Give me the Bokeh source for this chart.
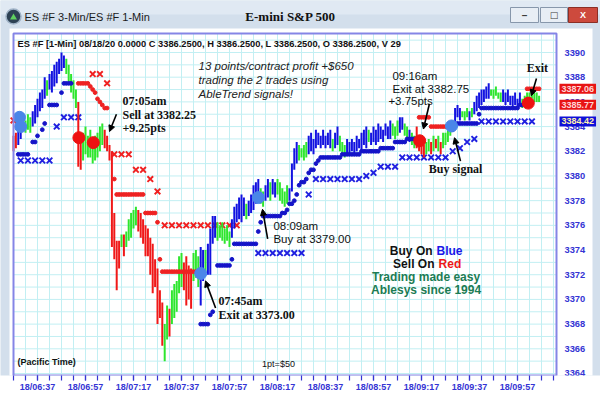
from bokeh.plotting import figure
from bokeh.models import Range1d, FixedTicker, Label, Arrow, NormalHead, ColumnDataSource
from bokeh.embed import file_html
from bokeh.resources import INLINE

# ---------------- data (1-minute ES bars, 18 Aug 2020, Pacific time) ----------------
first_bar_time = "06:27"
bar_low = [
    3382.0, 3382.25, 3382.5, 3383.0, 3383.75, 3383.5, 3383.75, 3383.5, 3384.0, 3384.25,
    3384.75, 3385.25, 3385.5, 3386.25, 3386.5, 3387.0, 3386.75, 3387.25, 3387.5, 3388.25,
    3388.5, 3388.75, 3388.25, 3387.5, 3386.75, 3386.25, 3385.5, 3380.75, 3380.5, 3381.25,
    3381.75, 3381.5, 3381.5, 3381.0, 3381.25, 3381.5, 3382.0, 3382.5, 3382.25, 3382.0,
    3381.25, 3374.25, 3373.25, 3370.75, 3372.5, 3374.25, 3373.5, 3374.25, 3374.75, 3375.0,
    3375.75, 3376.0, 3375.5, 3375.0, 3374.5, 3373.5, 3373.5, 3372.0, 3370.5, 3371.0,
    3368.0, 3368.5, 3366.25, 3365.0, 3366.75, 3367.0, 3368.0, 3368.5, 3369.0, 3370.5,
    3371.0, 3370.75, 3369.5, 3370.0, 3369.25, 3371.5, 3371.75, 3371.0, 3369.5, 3371.5,
    3372.25, 3372.0, 3372.0, 3374.5, 3375.0, 3374.75, 3375.0, 3374.75, 3374.5, 3374.75,
    3374.25, 3375.0, 3375.75, 3376.25, 3376.5, 3376.25, 3376.75, 3376.5, 3376.75, 3377.0,
    3377.25, 3377.75, 3378.0, 3377.75, 3377.5, 3378.0, 3378.25, 3378.0, 3378.5, 3378.25,
    3378.5, 3378.0, 3377.75, 3377.5, 3377.75, 3378.0, 3378.75, 3380.5, 3381.0, 3381.25,
    3381.5, 3381.25, 3381.5, 3381.75, 3382.0, 3381.75, 3382.25, 3382.5, 3382.25, 3382.5,
    3382.25, 3382.5, 3382.25, 3382.0, 3382.25, 3382.5, 3382.0, 3381.75, 3381.5, 3381.75,
    3381.75, 3382.0, 3381.75, 3382.0, 3382.25, 3382.0, 3382.5, 3382.25, 3382.75, 3382.5,
    3382.75, 3382.5, 3382.75, 3383.0, 3382.75, 3383.25, 3383.0, 3383.0, 3383.25, 3383.0,
    3383.25, 3383.5, 3383.75, 3383.25, 3383.0, 3382.75, 3382.5, 3382.25, 3382.25, 3382.0,
    3381.75, 3381.5, 3381.75, 3382.0, 3381.75, 3382.0, 3382.25, 3382.0, 3381.75, 3382.25,
    3382.5, 3382.75, 3383.25, 3383.75, 3384.25, 3384.75, 3384.5, 3384.75, 3384.5, 3384.75,
    3384.5, 3384.75, 3385.0, 3385.25, 3385.5, 3385.75, 3386.0, 3386.25, 3386.25, 3386.5,
    3386.25, 3386.5, 3386.25, 3386.0, 3386.0, 3385.75, 3386.0, 3385.75, 3385.5, 3385.75,
    3385.5, 3385.75, 3385.5, 3385.75, 3385.75, 3386.0, 3386.25, 3386.0, 3386.0, 3386.0,
]
bar_high = [
    3383.25, 3383.5, 3384.5, 3384.25, 3384.75, 3384.5, 3385.0, 3384.75, 3385.25, 3385.75,
    3386.25, 3386.75, 3387.0, 3388.0, 3387.75, 3388.25, 3388.5, 3389.0, 3389.25, 3389.5,
    3390.0, 3389.75, 3389.5, 3389.0, 3388.25, 3387.75, 3387.0, 3386.0, 3383.0, 3383.5,
    3384.0, 3383.25, 3383.75, 3383.0, 3383.25, 3383.5, 3384.0, 3384.25, 3383.75, 3383.25,
    3382.5, 3382.0, 3377.0, 3374.75, 3374.75, 3375.25, 3375.25, 3375.5, 3376.5, 3377.0,
    3377.25, 3377.5, 3377.25, 3377.0, 3376.5, 3376.0, 3375.75, 3375.0, 3374.5, 3373.25,
    3372.5, 3370.75, 3369.75, 3368.0, 3369.5, 3369.25, 3370.75, 3371.25, 3371.5, 3373.5,
    3373.75, 3373.0, 3373.5, 3372.75, 3372.5, 3373.75, 3374.0, 3373.5, 3374.25, 3374.0,
    3374.0, 3374.5, 3375.75, 3376.75, 3376.75, 3376.25, 3376.0, 3376.25, 3375.75, 3376.0,
    3375.5, 3376.5, 3377.5, 3377.75, 3378.25, 3378.5, 3378.25, 3377.75, 3378.0, 3378.5,
    3379.25, 3379.5, 3379.75, 3379.0, 3378.75, 3379.25, 3379.75, 3379.5, 3379.75, 3379.5,
    3379.75, 3379.5, 3379.0, 3378.75, 3379.25, 3379.0, 3381.0, 3382.25, 3382.75, 3382.5,
    3382.25, 3382.5, 3382.75, 3383.25, 3383.5, 3383.0, 3383.75, 3383.5, 3383.25, 3383.75,
    3383.25, 3383.5, 3383.75, 3383.0, 3383.5, 3384.0, 3383.25, 3382.75, 3382.5, 3383.0,
    3382.75, 3383.0, 3382.75, 3383.25, 3383.0, 3383.5, 3383.75, 3384.0, 3383.75, 3383.5,
    3384.0, 3383.75, 3384.25, 3384.0, 3383.75, 3384.25, 3384.0, 3384.5, 3384.25, 3384.0,
    3384.5, 3384.75, 3384.75, 3384.25, 3384.0, 3383.75, 3383.5, 3383.25, 3384.0, 3383.0,
    3382.75, 3382.5, 3382.75, 3383.0, 3382.75, 3383.25, 3383.0, 3383.25, 3382.75, 3383.5,
    3383.5, 3383.75, 3384.25, 3384.5, 3385.5, 3385.75, 3385.5, 3385.25, 3385.25, 3385.5,
    3385.25, 3385.5, 3386.0, 3386.5, 3386.75, 3387.0, 3387.0, 3387.25, 3387.5, 3387.0,
    3387.0, 3387.25, 3386.75, 3386.75, 3387.0, 3386.75, 3387.0, 3386.5, 3386.5, 3386.75,
    3386.25, 3386.75, 3386.25, 3386.5, 3386.75, 3386.75, 3386.75, 3386.75, 3386.75, 3386.5,
]
# B = blue (up trend), G = green (neutral), R = red (down trend)
bar_trend = ("RRBBGGGGBB" "BBBBGBBBBB" "BBGGGGGRRG" "GGGGGGGGRR" "RRRRRGRGGG"
             "GGRRRRRRRR" "RRRGGRGGGG" "GRRRRGGGBB" "GBBBBGGGGG" "GBBBBBBGBB"
             "BBBGGBBGBB" "GGGGGBBBBG" "GGGBBBBBBB" "BBBGBBGGGB" "BBBBBBBBGB"
             "BBBBBBBBGG" "GBBGGBGGRR" "RRGGRGRGRG" "GGGGBBBGGG" "BGBBBBBBBG"
             "GGGGBBBBBB" "BBGGGGGGGG")

# AbleTrend 1-min stops: (first minute after 06:00, last minute, price level)
blue_stop_runs = [(29, 33, 3381.75), (35, 36, 3382.75), (37, 37, 3383.25), (39, 39, 3383.75),
                  (40, 40, 3384.25), (42, 45, 3385.75), (47, 47, 3386.75), (48, 51, 3387.5),
                  (105, 108, 3368.0), (109, 109, 3368.75), (110, 110, 3369.0), (112, 117, 3372.75),
                  (118, 118, 3373.25), (119, 128, 3374.5), (129, 129, 3375.5), (130, 130, 3376.25),
                  (131, 138, 3376.75), (139, 140, 3377.0), (141, 141, 3377.25), (142, 143, 3377.75),
                  (144, 144, 3378.0), (145, 145, 3378.5), (146, 146, 3379.25), (147, 148, 3379.5),
                  (149, 149, 3379.75), (150, 150, 3380.25), (151, 152, 3380.5), (153, 153, 3381.0),
                  (154, 154, 3381.25), (155, 163, 3381.5), (164, 171, 3381.75), (172, 179, 3382.0),
                  (180, 185, 3382.25), (186, 190, 3382.75), (191, 195, 3383.0), (210, 210, 3383.75),
                  (211, 211, 3384.0), (212, 220, 3384.25), (221, 221, 3385.0), (222, 237, 3385.5),
                  (238, 240, 3385.75)]
red_stop_runs = [(54, 58, 3387.5), (59, 59, 3387.25), (60, 60, 3387.0), (61, 61, 3386.75),
                 (62, 62, 3386.25), (63, 63, 3386.0), (64, 64, 3385.75), (65, 66, 3385.5),
                 (69, 69, 3379.75), (70, 81, 3378.5), (82, 86, 3377.0), (87, 87, 3376.25),
                 (88, 88, 3373.25), (89, 104, 3372.25), (196, 200, 3384.75), (201, 208, 3384.0),
                 (241, 246, 3387.06)]
# 3-minute stops (X marks), one per 3-min bar
blue_x_runs = [(30, 42, 3381.25), (45, 45, 3384.0), (48, 54, 3384.75), (129, 147, 3373.75),
               (150, 150, 3378.5), (153, 171, 3379.75), (174, 174, 3380.0), (177, 177, 3380.25),
               (180, 186, 3380.75), (189, 207, 3381.5), (210, 210, 3382.0), (213, 213, 3382.25),
               (216, 216, 3382.75), (219, 219, 3383.0), (222, 243, 3384.42)]
red_x_runs = [(27, 27, 3384.5), (60, 63, 3388.25), (66, 66, 3387.5), (69, 75, 3381.75),
              (78, 81, 3380.5), (84, 84, 3379.75), (87, 87, 3378.75), (90, 120, 3376.0)]

buy_signal_t = [29.5, 30, 105, 129, 209.5]
buy_signal_p = [3384.75, 3384.0, 3372.1, 3378.25, 3384.05]
sell_signal_t = [54.25, 60.25, 196.25, 241.5]
sell_signal_p = [3383.1, 3382.7, 3382.85, 3385.9]

x_tick_labels = ["18/06:37", "18/06:57", "18/07:17", "18/07:37", "18/07:57", "18/08:17",
                 "18/08:37", "18/08:57", "18/09:17", "18/09:37", "18/09:57"]
y_tick_values = [3364, 3366, 3368, 3370, 3372, 3374, 3376, 3378, 3380, 3382, 3384, 3386,
                 3388, 3390]
price_tags = [3387.06, 3385.77, 3384.42]
price_tag_colors = ["#e81414", "#e81414", "#1010d8"]
price_tag_text = ["#ffd6d6", "#ffd6d6", "#fff2b0"]


def to_min(hhmm):
    h, m = hhmm.split(":")
    return (int(h) - 6) * 60 + int(m)


def expand(runs, step):
    ts, ps = [], []
    for a, b, lvl in runs:
        for m in range(a, b + 1, step):
            ts.append(m)
            ps.append(lvl)
    return ts, ps


# ---------------- geometry ----------------
W, H = 600, 395
AXIS_H = 20                     # bottom axis band
PX_PER_MIN = 2.4
BOX_L, BOX_R, BOX_T = 13, 556, 33   # price box (canvas px)
T_LEFT = 27                      # minute at box left edge
P_REF, Y_REF, PX_PER_PT = 3390.0, 52.0, 12.346
FRAME_H = H - AXIS_H
x0 = T_LEFT - BOX_L / PX_PER_MIN
x1 = x0 + W / PX_PER_MIN
y1 = P_REF + Y_REF / PX_PER_PT
y0 = P_REF - (FRAME_H - Y_REF) / PX_PER_PT


def X(px):
    return x0 + px / PX_PER_MIN


def Y(py):
    return y1 - py / PX_PER_PT


box_l, box_r, box_t, box_b = X(BOX_L), X(BOX_R), Y(BOX_T), y0

CHROME = "#d3dfec"
GRID = "#c2eff3"
AXC = "#3434d4"
FRAMEC = "#8585e6"

p = figure(width=W, height=H, output_backend="svg", toolbar_location=None,
           x_range=Range1d(x0, x1), y_range=Range1d(y0, y1), y_axis_location=None,
           min_border_left=0, min_border_right=0, min_border_top=0,
           min_border_bottom=AXIS_H, background_fill_color=CHROME,
           border_fill_color="white", outline_line_color=None)
p.xgrid.visible = False
p.ygrid.visible = False

x_major = [to_min(s.split("/")[1]) for s in x_tick_labels]
x_minor = list(range(T_LEFT, 253, 5))
xa = p.xaxis[0]
xa.ticker = FixedTicker(ticks=x_major, minor_ticks=x_minor)
xa.major_label_overrides = {t: s for t, s in zip(x_major, x_tick_labels)}
xa.major_label_text_font = "Liberation Sans"
xa.major_label_text_font_style = "bold"
xa.major_label_text_font_size = "9px"
xa.major_label_text_color = AXC
xa.major_label_standoff = 1
xa.axis_line_color = None
xa.major_tick_in = 0
xa.minor_tick_in = 0
xa.major_tick_out = 5
xa.minor_tick_out = 5
xa.major_tick_line_color = AXC
xa.minor_tick_line_color = AXC
xa.major_tick_line_width = 1.2
xa.minor_tick_line_width = 1.2

# ---------------- window chrome ----------------
p.quad(left=X(0), right=X(W), top=Y(0), bottom=Y(14), fill_color="#e0e9f3", line_color=None)
p.quad(left=X(9), right=X(592), top=Y(28), bottom=y0 - 5, fill_color="white", line_color=None)
for l, r, fc, lc in [(510, 538, "#e8eef5", "#8797ab"), (540, 567, "#e8eef5", "#8797ab"),
                     (568, 597, "#cd4a3d", "#8b2f26")]:
    p.quad(left=X(l), right=X(r), top=Y(7), bottom=Y(22), fill_color=fc, line_color=lc,
           line_width=1)
p.scatter([X(13)], [Y(16)], marker="circle", size=15, fill_color="#2d4154",
          line_color="#9fb2c6", line_width=1.5)
p.scatter([X(13)], [Y(17)], marker="triangle", size=7, fill_color="#5fd05f", line_color=None)

# ---------------- grid + box ----------------
p.segment([t for t in x_minor if t > T_LEFT], box_b, [t for t in x_minor if t > T_LEFT], box_t,
          line_color=GRID, line_width=1)
hlines = list(range(3364, 3392))
p.segment(box_l, hlines, box_r, hlines, line_color=GRID, line_width=1)

# ---------------- glyphs ----------------
t0 = to_min(first_bar_time)
trend_color = {"B": "#1212e0", "G": "#2ee62e", "R": "#f01818"}
bars = ColumnDataSource(dict(
    t=[t0 + i for i in range(len(bar_low))],
    low=bar_low, high=bar_high,
    col=[trend_color[c] for c in bar_trend],
))

bx_t, bx_p = expand(blue_x_runs, 3)
rx_t, rx_p = expand(red_x_runs, 3)
p.scatter(bx_t, bx_p, marker="x", size=8, line_width=1.9, line_color="#2020e0")
p.scatter(rx_t, rx_p, marker="x", size=8, line_width=1.9, line_color="#f02020")

p.segment("t", "low", "t", "high", source=bars, line_color="col", line_width=2)

bd_t, bd_p = expand(blue_stop_runs, 1)
rd_t, rd_p = expand(red_stop_runs, 1)
p.scatter(bd_t, bd_p, marker="circle", size=3.8, color="#1414c8")
p.scatter(rd_t, rd_p, marker="circle", size=3.8, color="#ee2222")

p.scatter(buy_signal_t, buy_signal_p, marker="circle", size=12, color="#4a86e8")
p.scatter(sell_signal_t, sell_signal_p, marker="circle", size=12, color="#ee1111")

p.quad(left=box_l, right=box_r, top=box_t, bottom=box_b, fill_color=None,
       line_color=FRAMEC, line_width=2)

# ---------------- arrows ----------------
arrows = [(69.9, 3385.0, 67.0, 3383.6), (111.2, 3369.3, 107.0, 3371.5),
          (132.9, 3374.9, 130.75, 3377.3), (200.3, 3385.85, 197.8, 3383.8),
          (213.25, 3381.2, 210.75, 3383.1), (244.9, 3387.9, 242.8, 3386.5)]
for xs, ys, xe, ye in arrows:
    p.add_layout(Arrow(end=NormalHead(size=6, fill_color="black", line_color="black"),
                       x_start=xs, y_start=ys, x_end=xe, y_end=ye,
                       line_color="black", line_width=1.6))


def txt(text, x, y, size="12px", font="Liberation Sans", style="normal", color="#111111",
        align="left", xu="data", yu="data", **kw):
    p.add_layout(Label(x=x, y=y, x_units=xu, y_units=yu, text=text, text_font=font,
                       text_font_size=size, text_font_style=style, text_color=color,
                       text_align=align, text_baseline="middle", **kw))


SERIF = "Liberation Serif"
# title bar
txt("ES #F 3-Min/ES #F 1-Min", 24, 16, size="11px", color="#1a1a1a", xu="canvas", yu="canvas")
txt("E-mini S&P 500", 290, 16, size="13px", font=SERIF, style="bold", align="center",
    xu="canvas", yu="canvas")
txt("\u2013", 524, 15, size="10px", style="bold", color="#3c3c3c", align="center",
    xu="canvas", yu="canvas")
txt("\u25a1", 553.5, 14.5, size="9px", font="DejaVu Sans", color="#3c3c3c", align="center",
    xu="canvas", yu="canvas")
txt("X", 582.5, 14.5, size="9px", style="bold", color="white", align="center",
    xu="canvas", yu="canvas")

# header inside plot
txt("ES #F [1-Min] 08/18/20  0.0000 C 3386.2500, H 3386.2500, L 3386.2500, O 3386.2500, V 29",
    17, 43, size="9.3px", style="bold", xu="canvas", yu="canvas")
txt("(Pacific Time)", 17, 361, size="9px", style="bold", xu="canvas", yu="canvas")
txt("1pt=$50", 278, 363, size="9px", align="center", xu="canvas", yu="canvas")

# price scale on the right
for v in y_tick_values:
    txt(str(v), 564, v, size="9.3px", style="bold", color=AXC, xu="canvas")
for pr, c, tc in zip(price_tags, price_tag_colors, price_tag_text):
    txt(f"{pr:.2f}", 559, pr, size="9px", style="bold", xu="canvas", color=tc,
        background_fill_color=c, padding=2)

# promo text
txt("13 points/contract profit +$650", 104.1, 3388.94, size="11.5px", style="italic",
    color="#222222")
txt("trading the 2 trades using", 104.1, 3387.8, size="11.5px", style="italic", color="#222222")
txt("AbleTrend signals!", 104.1, 3386.67, size="11.5px", style="italic", color="#222222")

# trade notes
txt("07:05am", 72.4, 3386.1, font=SERIF, style="bold")
txt("Sell at 3382.25", 72.4, 3384.96, font=SERIF, style="bold")
txt("+9.25pts", 72.4, 3383.9, font=SERIF, style="bold")
txt("07:45am", 112.4, 3369.84, font=SERIF, style="bold")
txt("Exit at 3373.00", 112.4, 3368.7, font=SERIF, style="bold")
txt("08:09am", 135.3, 3375.93, size="11.5px")
txt("Buy at 3379.00", 135.3, 3374.88, size="11.5px")
txt("09:16am", 184.9, 3388.13, size="11.5px")
txt("Exit at 3382.75", 184.9, 3387.07, size="11.5px")
txt("+3.75pts", 183.2, 3386.1, size="11.5px")
txt("Buy signal", 211.2, 3380.6, font=SERIF, style="bold", align="center")
txt("Exit", 245.3, 3388.78, font=SERIF, style="bold", align="center")

# legend block
txt("Buy On", 201.6, 3373.9, style="bold", align="right")
txt("Blue", 203.25, 3373.9, style="bold", color="#1818e8")
txt("Sell On", 202.4, 3372.85, style="bold", align="right")
txt("Red", 204.1, 3372.85, style="bold", color="#ee1818")
txt("Trading made easy", 198.9, 3371.79, style="bold", color="#1c7c54", align="center")
txt("Ablesys since 1994", 198.9, 3370.73, style="bold", color="#1c7c54", align="center")

open("out.html", "w").write(file_html(p, INLINE))
